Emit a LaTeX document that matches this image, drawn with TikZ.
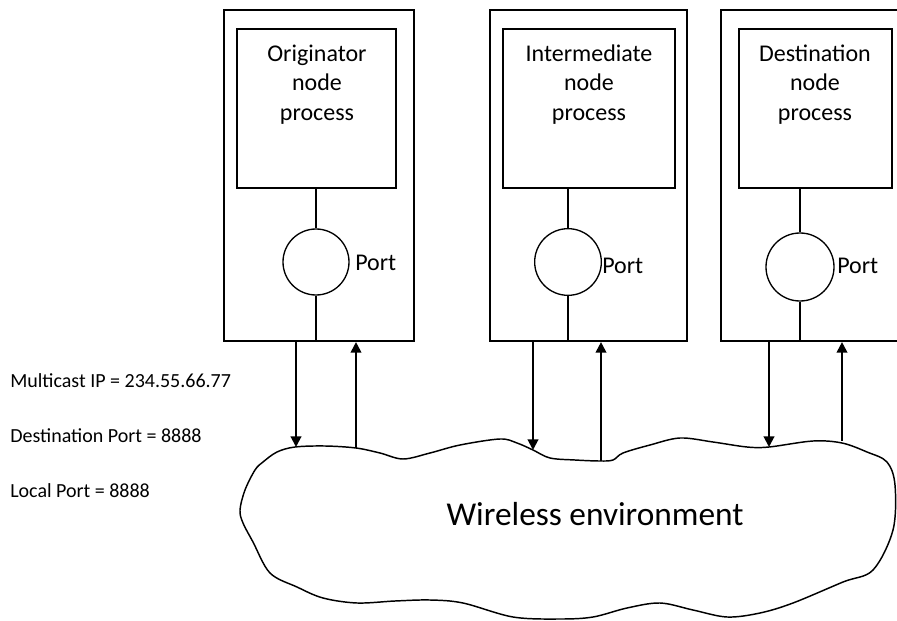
\documentclass[tikz,border=0pt]{standalone}
\usepackage{fontspec}
\setmainfont{Carlito}
\usetikzlibrary{arrows.meta,calc}
\begin{document}
\begin{tikzpicture}[x=0.75pt,y=-0.75pt,
 outerbox/.style={draw,line width=1.6pt,minimum height=248.25pt,inner sep=0pt},
 innerbox/.style={draw,line width=1pt,inner sep=0pt,minimum height=119.25pt},
 portc/.style={draw,circle,line width=1pt,inner sep=0pt},
 link/.style={line width=1pt},
 arr/.style={line width=1.5pt,-{Triangle[width=8pt,length=8pt]}},
 proc/.style={align=center,font=\fontsize{18}{22.1}\selectfont,anchor=base,inner sep=0pt},
 portlbl/.style={anchor=base west,font=\fontsize{18}{21.75}\selectfont,inner sep=0pt},
 info/.style={anchor=base west,font=\fontsize{15}{18}\selectfont,inner sep=0pt}]
\useasboundingbox (0,0) rectangle (897,621);
\clip (0,0) rectangle (897,621);
\fill[white] (0,0) rectangle (897,621);

% outer node boxes
\node[outerbox,minimum width=142.5pt] (o1) at (319,175.5) {};
\node[outerbox,minimum width=147.75pt] (o2) at (588.5,175.5) {};
\node[outerbox,minimum width=138pt] (o3) at (813,175.5) {};

% process boxes
\node[innerbox,minimum width=119.25pt] (in1) at (316.5,108.5) {};
\node[innerbox,minimum width=129pt] (in2) at (589,108.5) {};
\node[innerbox,minimum width=114.75pt] (in3) at (815.5,108.5) {};

\node[proc] (t1) at (317,120) {Originator\\node\\process};
\node[proc] (t2) at (589,120) {Intermediate\\node\\process};
\node[proc] (t3) at (815,120) {Destination\\node\\process};

% ports
\node[portc,minimum size=49.5pt] (c1) at (316,262) {};
\node[portc,minimum size=50pt] (c2) at (568,262) {};
\node[portc,minimum size=51pt] (c3) at (800,267) {};

\node[portlbl] (pl1) at (355,270) {Port};
\node[portlbl] (pl2) at (602,273) {Port};
\node[portlbl] (pl3) at (837,273) {Port};

\draw[link] (c1.north |- in1.south) -- (c1.north);
\draw[link] (c1.south) -- (c1.south |- o1.south);
\draw[link] (c2.north |- in2.south) -- (c2.north);
\draw[link] (c2.south) -- (c2.south |- o2.south);
\draw[link] (c3.north |- in3.south) -- (c3.north);
\draw[link] (c3.south) -- (c3.south |- o3.south);

% cloud
\draw[line width=1.1pt] plot[smooth cycle, tension=0.55] coordinates {(255,470) (263,462) (277,452) (295,447) (325,446) (356,448) (380,453) (403,459) (430,453) (460,445) (500,439) (517,443) (533,450) (550,458) (575,460) (600,461) (613,460) (623,453) (650,445) (680,438) (713,442) (747,447) (769,447) (813,441) (842,443) (867,452) (887,462) (895,485) (893,530) (873,570) (843,582) (793,603) (760,613) (727,617) (693,610) (660,603) (627,608) (593,617) (560,619) (513,617) (463,603) (430,600) (395,601) (357,603) (323,598) (297,587) (270,573) (253,542) (243,523) (240,510) (245,490)};
\node[anchor=base,font=\fontsize{25}{30}\selectfont,inner sep=0pt] (env) at (595,525) {Wireless environment};

% arrows
\coordinate (d1) at (296,447);
\coordinate (u1) at (356,448);
\coordinate (d2) at (533,450);
\coordinate (u2) at (601,461);
\coordinate (d3) at (769,447);
\coordinate (u3) at (842,441);
\draw[arr] (d1 |- o1.south) -- (d1);
\draw[arr] (u1) -- (u1 |- o1.south);
\draw[arr] (d2 |- o2.south) -- (d2);
\draw[arr] (u2) -- (u2 |- o2.south);
\draw[arr] (d3 |- o3.south) -- (d3);
\draw[arr] (u3) -- (u3 |- o3.south);

% info
\node[info] (i1) at (10,387) {Multicast IP = 234.55.66.77};
\node[info] (i2) at (10,442) {Destination Port = 8888};
\node[info] (i3) at (10,497) {Local Port = 8888};
\end{tikzpicture}
\end{document}
